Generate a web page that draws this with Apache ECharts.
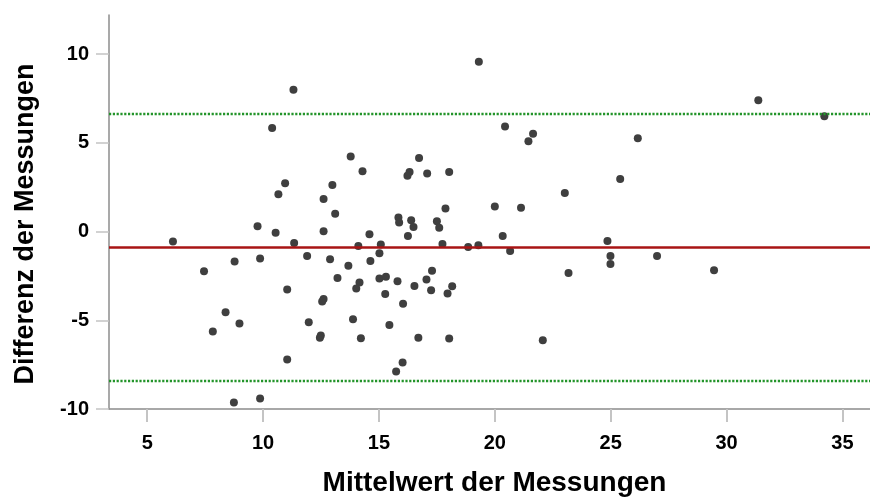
<!DOCTYPE html>
<html>
<head>
<meta charset="utf-8">
<script src="https://cdn.jsdelivr.net/npm/echarts@6/dist/echarts.min.js"></script>
<style>
  html, body { margin: 0; padding: 0; background: #fff; }
  #chart { width: 870px; height: 498px; }
</style>
</head>
<body>
<div id="chart"></div>
<script>
// Bland-Altman: mean of the two measurements vs. their difference
const meanValues = [
  6.11, 7.45, 8.77, 8.38, 7.83, 8.98, 8.74, 9.87, 9.87, 11.04,
  11.04, 11.31, 10.39, 10.95, 10.66, 9.76, 10.54, 11.34, 13.78, 14.29,
  12.99, 12.61, 13.11, 15.84, 15.87, 12.61, 14.59, 14.11, 15.08, 15.02,
  11.90, 12.89, 13.68, 14.63, 13.21, 14.16, 14.02, 15.02, 15.30, 15.80,
  12.61, 12.55, 15.27, 11.97, 13.88, 15.45, 12.49, 12.45, 14.22, 19.31,
  20.44, 21.65, 21.45, 16.73, 16.32, 16.23, 17.08, 18.03, 17.87, 20.00,
  21.13, 16.39, 16.49, 17.50, 17.60, 16.25, 20.34, 17.74, 18.85, 19.29,
  20.66, 17.29, 16.53, 17.05, 17.25, 17.96, 18.16, 16.04, 16.70, 18.03,
  22.07, 16.02, 15.74, 23.18, 24.99, 24.99, 27.00, 29.46, 31.37, 34.22,
  26.17, 25.41, 23.02, 24.86
];
const diffValues = [
  -0.56, -2.24, -1.69, -4.55, -5.63, -5.18, -9.63, -9.41, -1.52, -3.27,
  -7.21, 8.00, 5.84, 2.72, 2.10, 0.30, -0.06, -0.64, 4.23, 3.40,
  2.63, 1.84, 1.01, 0.79, 0.51, 0.02, -0.15, -0.81, -0.73, -1.22,
  -1.37, -1.56, -1.92, -1.66, -2.61, -2.87, -3.21, -2.65, -2.54, -2.80,
  -3.80, -3.94, -3.52, -5.11, -4.94, -5.26, -5.86, -5.98, -6.01, 9.58,
  5.92, 5.52, 5.09, 4.15, 3.36, 3.15, 3.27, 3.36, 1.30, 1.41,
  1.35, 0.64, 0.26, 0.58, 0.22, -0.25, -0.25, -0.70, -0.87, -0.77,
  -1.09, -2.20, -3.06, -2.70, -3.31, -3.49, -3.08, -4.06, -5.99, -6.03,
  -6.12, -7.38, -7.89, -2.33, -1.37, -1.83, -1.37, -2.18, 7.41, 6.50,
  5.26, 2.96, 2.18, -0.53
];

// Bias and limits of agreement
const meanDifference = -0.90;
const upperLimit = 6.65;
const lowerLimit = -8.42;

// Tick labels
const xTicks = [5, 10, 15, 20, 25, 30, 35];
const yTicks = [-10, -5, 0, 5, 10];

const xTitle = 'Mittelwert der Messungen';
const yTitle = 'Differenz der Messungen';

const points = meanValues.map((m, i) => [m, diffValues[i]]);

const fontFamily = '"Liberation Sans", Arial, sans-serif';
const axisLineStyle = { color: '#8c8c8c', width: 1.5 };
const limitLineStyle = { color: '#23942a', width: 2.4, type: [2.2, 1.6] };

const chart = echarts.init(document.getElementById('chart'), null, { renderer: 'canvas' });

chart.setOption({
  animation: false,
  backgroundColor: '#ffffff',
  grid: {
    left: 109, right: 0, top: 15, bottom: 89,
    containLabel: false,
    outerBoundsMode: 'none'
  },
  xAxis: {
    type: 'value',
    min: 3.35,
    max: 36.19,
    name: xTitle,
    nameLocation: 'middle',
    nameGap: 60,
    nameTextStyle: { fontFamily, fontSize: 28, fontWeight: 'bold', color: '#000', padding: [0, 0, 0, 10] },
    axisLine: { show: true, onZero: false, lineStyle: axisLineStyle },
    axisTick: { show: true, length: 13, customValues: xTicks, lineStyle: { color: '#c4c4c4', width: 2 } },
    axisLabel: { customValues: xTicks, margin: 24, fontFamily, fontSize: 20, fontWeight: 'bold', color: '#000' },
    splitLine: { show: false }
  },
  yAxis: {
    type: 'value',
    min: -10,
    max: 12.21,
    name: yTitle,
    nameLocation: 'middle',
    nameGap: 70,
    nameTextStyle: { fontFamily, fontSize: 27, fontWeight: 'bold', color: '#000', padding: [0, 24, 0, 0] },
    axisLine: { show: true, onZero: false, lineStyle: axisLineStyle },
    axisTick: { show: true, length: 13, customValues: yTicks, lineStyle: { color: '#c4c4c4', width: 1.5 } },
    axisLabel: { customValues: yTicks, margin: 20, fontFamily, fontSize: 20, fontWeight: 'bold', color: '#000' },
    splitLine: { show: false }
  },
  series: [
    {
      // reference lines: bias (solid) and limits of agreement (dotted)
      type: 'line',
      data: [],
      z: 1,
      markLine: {
        silent: true,
        symbol: ['none', 'none'],
        label: { show: false },
        data: [
          { yAxis: meanDifference, lineStyle: { color: '#a81414', width: 2.5, type: 'solid' } },
          { yAxis: upperLimit, lineStyle: limitLineStyle },
          { yAxis: lowerLimit, lineStyle: limitLineStyle }
        ]
      }
    },
    {
      type: 'scatter',
      z: 3,
      symbol: 'circle',
      symbolSize: 8,
      itemStyle: { color: '#3f3f3f', opacity: 1 },
      data: points
    }
  ]
});
</script>
</body>
</html>
